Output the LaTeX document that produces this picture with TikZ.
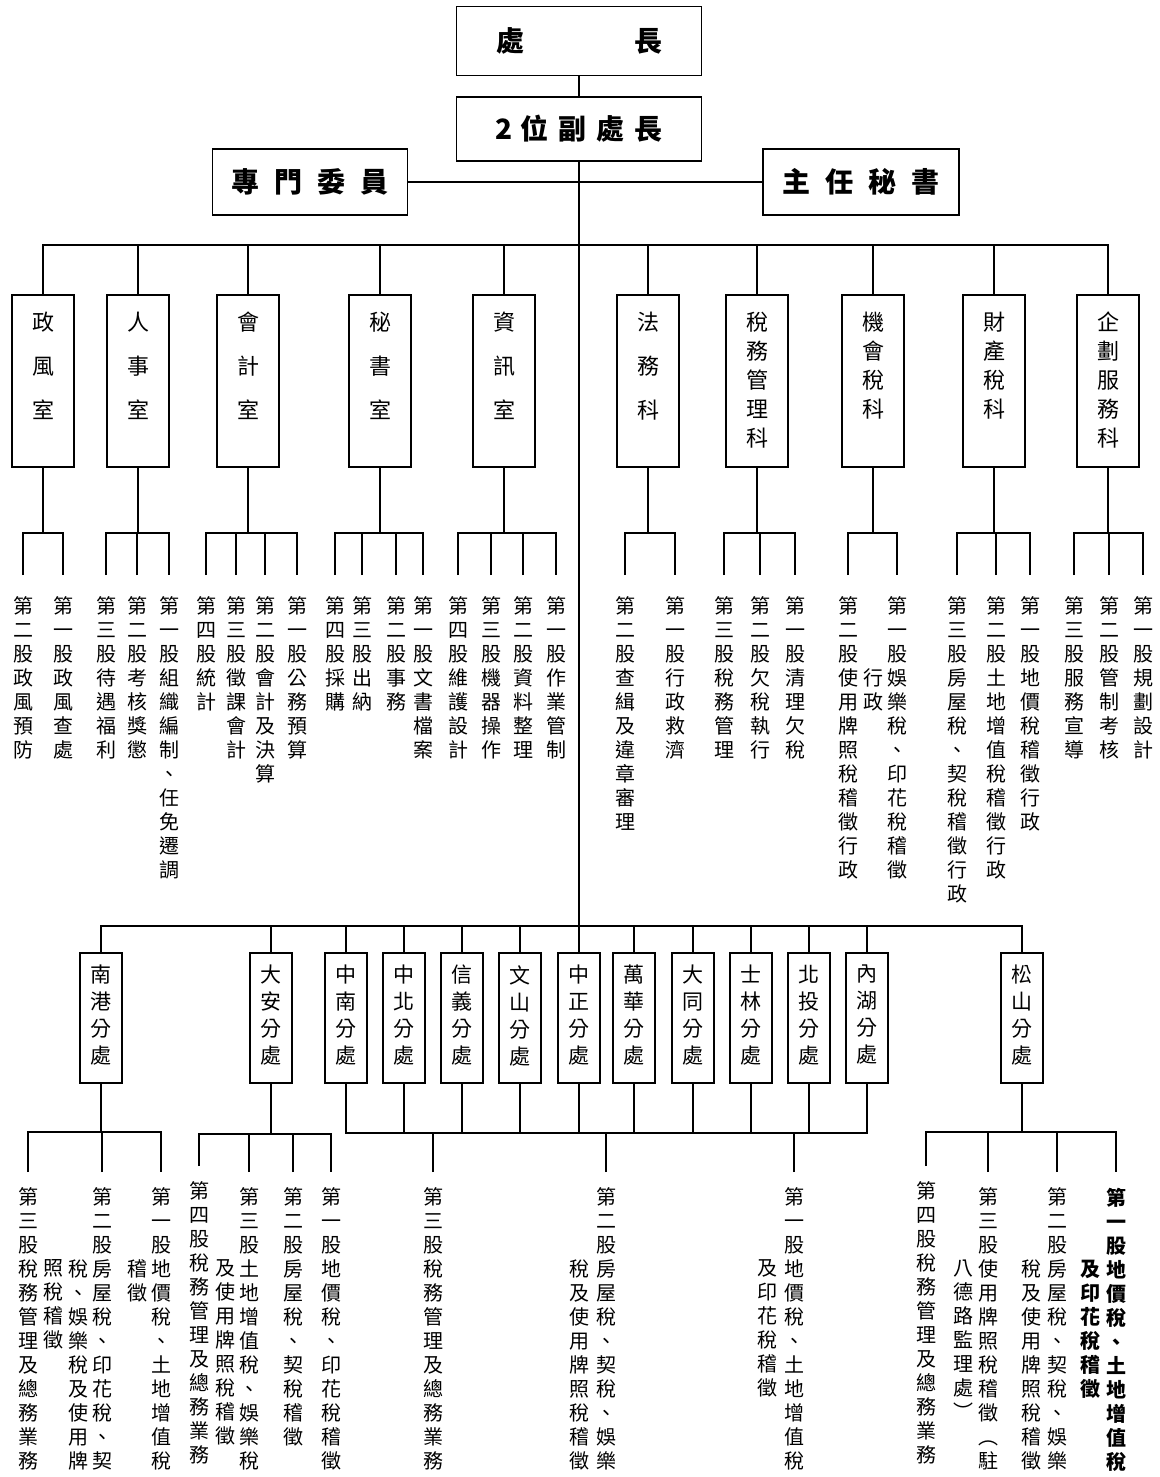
\documentclass[tikz,border=0pt]{standalone}
\usepackage{fontspec}
\newfontfamily\cjk{Noto Sans CJK TC}
\usetikzlibrary{positioning,calc}
\makeatletter
\newcommand\vcol[2][24]{\vbox{\baselineskip=#1pt\lineskiplimit=-100pt\lineskip=0pt\@tfor\vc:=#2\do{\hbox to 1em{\hss\vc\hss}}}}
\makeatother

\begin{document}
\begin{tikzpicture}[x=1pt,y=-1pt,line width=1.5pt,
    topbox/.style={draw,line width=1.8pt,inner sep=0pt,font=\cjk\bfseries\fontsize{28}{28}\selectfont},
    secbox/.style={draw,minimum width=62pt,minimum height=172pt,inner sep=0pt},
    brbox/.style={draw,minimum width=42pt,minimum height=130pt,inner sep=0pt},
    boxtxt/.style={anchor=north,inner sep=0pt,outer ysep=#1,font=\cjk\fontsize{22}{22}\selectfont},
    boxtxt/.default=18pt,
    unit/.style={anchor=north,inner sep=0pt,outer ysep=22pt,font=\cjk\fontsize{20}{20}\selectfont},
    unitlow/.style={unit,outer ysep=16pt},
    heavy/.style={font=\cjk\bfseries\fontsize{20}{20}\selectfont}]
    \useasboundingbox (0,0) rectangle (1159,1477);

    % head of the office
    \node[topbox,minimum width=245pt,minimum height=69pt] (chief) at (579,41) {處\hspace{110pt}長};
    \node[topbox,minimum width=245pt,minimum height=64pt] (dep) at (579,129) {2\hspace{8pt}位\hspace{10pt}副\hspace{10pt}處\hspace{10pt}長};
    \node[topbox,minimum width=195pt,minimum height=66pt] (zm) at (310,182) {專\hspace{15pt}門\hspace{15pt}委\hspace{15pt}員};
    \node[topbox,minimum width=196pt,minimum height=66pt] (zr) at (861,182) {主\hspace{15pt}任\hspace{15pt}秘\hspace{15pt}書};

    \draw (chief) -- (dep);
    \draw (zm) -- (zr);
    \draw (dep) -- (dep |- 0,926);

    % sections
    \node[secbox] (zf) at (43,381)   {};
    \node[secbox] (rs) at (138,381)  {};
    \node[secbox] (kj) at (248,381)  {};
    \node[secbox] (ms) at (380,381)  {};
    \node[secbox] (zx) at (504,381)  {};
    \node[secbox] (fw) at (648,381)  {};
    \node[secbox] (sg) at (757,381)  {};
    \node[secbox] (jh) at (873,381)  {};
    \node[secbox] (cc) at (994,381)  {};
    \node[secbox] (qh) at (1108,381) {};

    \node[boxtxt] (zft) at (zf.north) {\vcol[44]{政風室}};
    \node[boxtxt] (rst) at (rs.north) {\vcol[44]{人事室}};
    \node[boxtxt] (kjt) at (kj.north) {\vcol[44]{會計室}};
    \node[boxtxt] (mst) at (ms.north) {\vcol[44]{秘書室}};
    \node[boxtxt] (zxt) at (zx.north) {\vcol[44]{資訊室}};
    \node[boxtxt] (fwt) at (fw.north) {\vcol[44]{法務科}};
    \node[boxtxt] (sgt) at (sg.north) {\vcol[29]{稅務管理科}};
    \node[boxtxt] (jht) at (jh.north) {\vcol[29]{機會稅科}};
    \node[boxtxt] (cct) at (cc.north) {\vcol[29]{財產稅科}};
    \node[boxtxt] (qht) at (qh.north) {\vcol[29]{企劃服務科}};

    \draw (zf) -- (zf |- 0,245) -- (qh |- 0,245) -- (qh);
    \foreach \d in {rs,kj,ms,zx,fw,sg,jh,cc}
        \draw (\d) -- (\d |- 0,245);

    % units of the sections
    \node[unit] (zf2) at (23,575)  {\vcol{第二股政風預防}};
    \node[unit] (zf1) at (63,575)  {\vcol{第一股政風查處}};
    \node[unit] (rs3) at (106,575) {\vcol{第三股待遇福利}};
    \node[unit] (rs2) at (137,575) {\vcol{第二股考核獎懲}};
    \node[unit] (rs1) at (169,575) {\vcol{第一股組織編制、任免遷調}};
    \node[unit] (kj4) at (206,575) {\vcol{第四股統計}};
    \node[unit] (kj3) at (236,575) {\vcol{第三股徵課會計}};
    \node[unit] (kj2) at (265,575) {\vcol{第二股會計及決算}};
    \node[unit] (kj1) at (297,575) {\vcol{第一股公務預算}};
    \node[unit] (ms4) at (335,575) {\vcol{第四股採購}};
    \node[unit] (ms3) at (362,575) {\vcol{第三股出納}};
    \node[unit] (ms2) at (396,575) {\vcol{第二股事務}};
    \node[unit] (ms1) at (423,575) {\vcol{第一股文書檔案}};
    \node[unit] (zx4) at (458,575) {\vcol{第四股維護設計}};
    \node[unit] (zx3) at (491,575) {\vcol{第三股機器操作}};
    \node[unit] (zx2) at (523,575) {\vcol{第二股資料整理}};
    \node[unit] (zx1) at (556,575) {\vcol{第一股作業管制}};
    \node[unit] (fw2) at (625,575) {\vcol{第二股查緝及違章審理}};
    \node[unit] (fw1) at (675,575) {\vcol{第一股行政救濟}};
    \node[unit] (sg3) at (724,575) {\vcol{第三股稅務管理}};
    \node[unit] (sg2) at (760,575) {\vcol{第二股欠稅執行}};
    \node[unit] (sg1) at (795,575) {\vcol{第一股清理欠稅}};
    \node[unit] (jh2) at (848,575) {\vcol{第二股使用牌照稅稽徵行政}};
    \node[unit] (jh1) at (897,575) {\vcol{第一股娛樂稅、印花稅稽徵}};
    \node[unit] (jh1b) at (873,647) {\vcol{行政}};
    \node[unit] (cc3) at (957,575)  {\vcol{第三股房屋稅、契稅稽徵行政}};
    \node[unit] (cc2) at (996,575)  {\vcol{第二股土地增值稅稽徵行政}};
    \node[unit] (cc1) at (1030,575) {\vcol{第一股地價稅稽徵行政}};
    \node[unit] (qh3) at (1074,575) {\vcol{第三股服務宣導}};
    \node[unit] (qh2) at (1109,575) {\vcol{第二股管制考核}};
    \node[unit] (qh1) at (1143,575) {\vcol{第一股規劃設計}};

    \draw (zf) -- (zf |- 0,533) (zf2.north) |- (zf1.north |- 0,533) -- (zf1.north);
    \draw (rs) -- (rs |- 0,533) (rs3.north) |- (rs1.north |- 0,533) -- (rs1.north)
          (rs2.north) -- (rs2.north |- 0,533);
    \draw (kj) -- (kj |- 0,533) (kj4.north) |- (kj1.north |- 0,533) -- (kj1.north)
          (kj3.north) -- (kj3.north |- 0,533) (kj2.north) -- (kj2.north |- 0,533);
    \draw (ms) -- (ms |- 0,533) (ms4.north) |- (ms1.north |- 0,533) -- (ms1.north)
          (ms3.north) -- (ms3.north |- 0,533) (ms2.north) -- (ms2.north |- 0,533);
    \draw (zx) -- (zx |- 0,533) (zx4.north) |- (zx1.north |- 0,533) -- (zx1.north)
          (zx3.north) -- (zx3.north |- 0,533) (zx2.north) -- (zx2.north |- 0,533);
    \draw (fw) -- (fw |- 0,533) (fw2.north) |- (fw1.north |- 0,533) -- (fw1.north);
    \draw (sg) -- (sg |- 0,533) (sg3.north) |- (sg1.north |- 0,533) -- (sg1.north)
          (sg2.north) -- (sg2.north |- 0,533);
    \draw (jh) -- (jh |- 0,533) (jh2.north) |- (jh1.north |- 0,533) -- (jh1.north);
    \draw (cc) -- (cc |- 0,533) (cc3.north) |- (cc1.north |- 0,533) -- (cc1.north)
          (cc2.north) -- (cc2.north |- 0,533);
    \draw (qh) -- (qh |- 0,533) (qh3.north) |- (qh1.north |- 0,533) -- (qh1.north)
          (qh2.north) -- (qh2.north |- 0,533);

    % branch offices
    \node[brbox] (ng) at (101,1018)  {};
    \node[brbox] (da) at (271,1018)  {};
    \node[brbox] (zn) at (346,1018)  {};
    \node[brbox] (zb) at (404,1018)  {};
    \node[brbox] (xy) at (462,1018)  {};
    \node[brbox] (ws) at (520,1018)  {};
    \node[brbox] (zz) at (579,1018)  {};
    \node[brbox] (wh) at (634,1018)  {};
    \node[brbox] (dt) at (693,1018)  {};
    \node[brbox] (sl) at (751,1018)  {};
    \node[brbox] (bt) at (809,1018)  {};
    \node[brbox] (nh) at (867,1018)  {};
    \node[brbox] (ss) at (1022,1018) {};

    \node[boxtxt=13pt,font=\cjk\fontsize{21}{21}\selectfont] (ngt) at (ng.north) {\vcol[27]{南港分處}};
    \node[boxtxt=13pt,font=\cjk\fontsize{21}{21}\selectfont] (dat) at (da.north) {\vcol[27]{大安分處}};
    \node[boxtxt=13pt,font=\cjk\fontsize{21}{21}\selectfont] (znt) at (zn.north) {\vcol[27]{中南分處}};
    \node[boxtxt=13pt,font=\cjk\fontsize{21}{21}\selectfont] (zbt) at (zb.north) {\vcol[27]{中北分處}};
    \node[boxtxt=13pt,font=\cjk\fontsize{21}{21}\selectfont] (xyt) at (xy.north) {\vcol[27]{信義分處}};
    \node[boxtxt=13pt,font=\cjk\fontsize{21}{21}\selectfont] (wst) at (ws.north) {\vcol[27]{文山分處}};
    \node[boxtxt=13pt,font=\cjk\fontsize{21}{21}\selectfont] (zzt) at (zz.north) {\vcol[27]{中正分處}};
    \node[boxtxt=13pt,font=\cjk\fontsize{21}{21}\selectfont] (wht) at (wh.north) {\vcol[27]{萬華分處}};
    \node[boxtxt=13pt,font=\cjk\fontsize{21}{21}\selectfont] (dtt) at (dt.north) {\vcol[27]{大同分處}};
    \node[boxtxt=13pt,font=\cjk\fontsize{21}{21}\selectfont] (slt) at (sl.north) {\vcol[27]{士林分處}};
    \node[boxtxt=13pt,font=\cjk\fontsize{21}{21}\selectfont] (btt) at (bt.north) {\vcol[27]{北投分處}};
    \node[boxtxt=13pt,font=\cjk\fontsize{21}{21}\selectfont] (nht) at (nh.north) {\vcol[27]{內湖分處}};
    \node[boxtxt=13pt,font=\cjk\fontsize{21}{21}\selectfont] (sst) at (ss.north) {\vcol[27]{松山分處}};

    \draw (ng) -- (ng |- 0,926) -- (ss |- 0,926) -- (ss);
    \foreach \b in {da,zn,zb,xy,ws,zz,wh,dt,sl,bt,nh}
        \draw (\b) -- (\b |- 0,926);

    % units of the branch offices
    \node[unitlow] (ng1)  at (28,1172)  {\vcol{第三股稅務管理及總務業務}};
    \node[unitlow] (ng2)  at (102,1172) {\vcol{第二股房屋稅、印花稅、契}};
    \node[unitlow] (ng2b) at (78,1244)  {\vcol{稅、娛樂稅及使用牌}};
    \node[unitlow] (ng2c) at (53,1244)  {\vcol{照稅稽徵}};
    \node[unitlow] (ng3)  at (161,1172) {\vcol{第一股地價稅、土地增值稅}};
    \node[unitlow] (ng3b) at (137,1244) {\vcol{稽徵}};

    \node[unitlow] (da1)  at (199,1166) {\vcol{第四股稅務管理及總務業務}};
    \node[unitlow] (da2)  at (249,1172) {\vcol{第三股土地增值稅、娛樂稅}};
    \node[unitlow] (da2b) at (225,1244) {\vcol{及使用牌照稅稽徵}};
    \node[unitlow] (da3)  at (293,1172) {\vcol{第二股房屋稅、契稅稽徵}};
    \node[unitlow] (da4)  at (331,1172) {\vcol{第一股地價稅、印花稅稽徵}};

    \node[unitlow] (mid1)  at (433,1172) {\vcol{第三股稅務管理及總務業務}};
    \node[unitlow] (mid2)  at (606,1172) {\vcol{第二股房屋稅、契稅、娛樂}};
    \node[unitlow] (mid2b) at (579,1244) {\vcol{稅及使用牌照稅稽徵}};
    \node[unitlow] (mid3)  at (794,1172) {\vcol{第一股地價稅、土地增值稅}};
    \node[unitlow] (mid3b) at (767,1244) {\vcol{及印花稅稽徵}};

    \node[unitlow] (ss1)  at (926,1166)  {\vcol{第四股稅務管理及總務業務}};
    \node[unitlow] (ss2)  at (988,1172)  {\vcol{第三股使用牌照稅稽徵︵駐}};
    \node[unitlow] (ss2b) at (963,1244)  {\vcol{八德路監理處︶}};
    \node[unitlow] (ss3)  at (1057,1172) {\vcol{第二股房屋稅、契稅、娛樂}};
    \node[unitlow] (ss3b) at (1031,1244) {\vcol{稅及使用牌照稅稽徵}};
    \node[unitlow,heavy] (ss4)  at (1116,1172) {\vcol{第一股地價稅、土地增值稅}};
    \node[unitlow,heavy] (ss4b) at (1090,1244) {\vcol{及印花稅稽徵}};

    \draw (ng) -- (ng |- 0,1132) (ng1.north) |- (ng3.north |- 0,1132) -- (ng3.north)
          (ng2.north) -- (ng2.north |- 0,1132);
    \draw (da) -- (da |- 0,1134) (da1.north) |- (da4.north |- 0,1134) -- (da4.north)
          (da2.north) -- (da2.north |- 0,1134) (da3.north) -- (da3.north |- 0,1134);
    \draw (zn) |- (nh |- 0,1133) -- (nh);
    \foreach \b in {zb,xy,ws,zz,wh,dt,sl,bt}
        \draw (\b) -- (\b |- 0,1133);
    \foreach \t in {mid1,mid2,mid3}
        \draw (\t.north) -- (\t.north |- 0,1133);
    \draw (ss) -- (ss |- 0,1132) (ss1.north) |- (ss4.north |- 0,1132) -- (ss4.north)
          (ss2.north) -- (ss2.north |- 0,1132) (ss3.north) -- (ss3.north |- 0,1132);
\end{tikzpicture}
\end{document}
